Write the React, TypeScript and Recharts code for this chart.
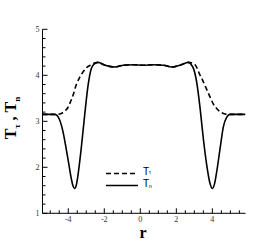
import React from 'react';
import { LineChart, Line, XAxis, YAxis } from 'recharts';

// T_n (solid) samples
const tnR = [-5.43, -5.0, -4.8, -4.67, -4.5, -4.29, -4.15, -4.02, -3.83, -3.74, -3.65, -3.55, -3.46, -3.28, -3.09, -2.9, -2.72, -2.55, -2.35, -1.96, -1.4, -0.94, -0.39, 0.17, 0.72, 1.28, 1.74, 2.2, 2.67, 2.85, 2.95, 3.13, 3.32, 3.5, 3.69, 3.85, 4.0, 4.12, 4.24, 4.43, 4.61, 4.8, 4.98, 5.3, 5.84];
const tnV = [3.15, 3.15, 3.15, 3.14, 3.05, 2.77, 2.48, 2.19, 1.75, 1.6, 1.54, 1.62, 1.83, 2.41, 3.13, 3.78, 4.15, 4.25, 4.28, 4.22, 4.18, 4.22, 4.23, 4.22, 4.23, 4.22, 4.18, 4.22, 4.28, 4.22, 4.15, 3.85, 3.28, 2.62, 2.04, 1.68, 1.54, 1.64, 1.9, 2.41, 2.88, 3.09, 3.15, 3.15, 3.15];

// T_tau (dashed) samples
const ttR = [-5.43, -4.6, -4.39, -4.2, -4.02, -3.88, -3.74, -3.55, -3.4, -3.28, -3.0, -2.72, -2.5, -2.35, -1.96, -1.4, -0.94, -0.39, 0.17, 0.72, 1.28, 1.74, 2.2, 2.67, 2.85, 3.04, 3.32, 3.45, 3.59, 3.87, 4.05, 4.24, 4.42, 4.61, 4.9, 5.84];
const ttV = [3.15, 3.15, 3.17, 3.22, 3.3, 3.42, 3.56, 3.8, 3.93, 4.01, 4.16, 4.23, 4.27, 4.28, 4.22, 4.18, 4.22, 4.23, 4.22, 4.23, 4.22, 4.18, 4.22, 4.28, 4.27, 4.23, 4.0, 3.9, 3.78, 3.53, 3.38, 3.28, 3.21, 3.17, 3.15, 3.15];

const xTicks = [-5, -4.5, -4, -3.5, -3, -2.5, -2, -1.5, -1, -0.5, 0, 0.5, 1, 1.5, 2, 2.5, 3, 3.5, 4, 4.5, 5, 5.5];
const xMajor = [-4, -2, 0, 2, 4];
const yTicks = [1, 1.2, 1.4, 1.6, 1.8, 2, 2.2, 2.4, 2.6, 2.8, 3, 3.2, 3.4, 3.6, 3.8, 4, 4.2, 4.4, 4.6, 4.8, 5];
const yMajor = [1, 2, 3, 4, 5];

const tnData = tnR.map((r, i) => ({ r, v: tnV[i] }));
const ttData = ttR.map((r, i) => ({ r, v: ttV[i] }));

const SERIF = '"Liberation Serif", "Times New Roman", serif';
const SANS = '"Liberation Sans", Arial, sans-serif';

const isMajor = (arr: number[], v: number) => arr.some((m) => Math.abs(m - v) < 1e-6);

const BottomTick = (p: any) => {
  const { x, y, payload } = p;
  const major = isMajor(xMajor, payload.value);
  return (
    <g>
      <line x1={x} x2={x} y1={y} y2={y - (major ? 5 : 3)} stroke="#000" strokeWidth={1} />
      {major && (
        <text x={x} y={y + 9} textAnchor="middle" fontSize={8} fontFamily={SERIF} fill="#333">
          {payload.value}
        </text>
      )}
    </g>
  );
};

const TopTick = (p: any) => {
  const { x, y, payload } = p;
  const major = isMajor(xMajor, payload.value);
  return <line x1={x} x2={x} y1={y} y2={y + (major ? 5 : 3)} stroke="#000" strokeWidth={1} />;
};

const LeftTick = (p: any) => {
  const { x, y, payload } = p;
  const major = isMajor(yMajor, payload.value);
  return (
    <g>
      <line x1={x} x2={x + (major ? 5 : 3)} y1={y} y2={y} stroke="#000" strokeWidth={1} />
      {major && (
        <text x={x - 3} y={y + 3} textAnchor="end" fontSize={8} fontFamily={SERIF} fill="#333">
          {payload.value}
        </text>
      )}
    </g>
  );
};

const RightTick = (p: any) => {
  const { x, y, payload } = p;
  const major = isMajor(yMajor, payload.value);
  return <line x1={x} x2={x - (major ? 5 : 3)} y1={y} y2={y} stroke="#000" strokeWidth={1} />;
};

const XDecor = () => (
  <g>
    <text x={143} y={238} textAnchor="middle" fontSize={16} fontWeight="bold" fontFamily={SERIF} fill="#000">
      r
    </text>
    <line x1={106} x2={138} y1={173.5} y2={173.5} stroke="#000" strokeWidth={1.5} strokeDasharray="5 3" />
    <line x1={106} x2={138} y1={185.5} y2={185.5} stroke="#000" strokeWidth={1.5} />
    <text x={143} y={175} fontSize={10} fontFamily={SANS} fill="#000">
      T<tspan fontSize={5} dy={-1}>τ</tspan>
    </text>
    <text x={143} y={187} fontSize={10} fontFamily={SANS} fill="#000">
      T<tspan fontSize={5} dy={1}>n</tspan>
    </text>
  </g>
);

const YDecor = () => (
  <text
    x={16}
    y={118}
    transform="rotate(-90, 16, 118)"
    textAnchor="middle"
    fontSize={16}
    fontWeight="bold"
    fontFamily={SERIF}
    fill="#000"
  >
    T<tspan fontSize={9} dy={4}>τ</tspan>
    <tspan dy={-4}> , T</tspan>
    <tspan fontSize={9} dy={4}>n</tspan>
  </text>
);

export default function App() {
  return (
    <div style={{ position: 'absolute', left: 0, top: 0, width: 271, height: 241, background: '#fff' }}>
      <LineChart width={271} height={241} margin={{ top: 29.3, right: 25.5, bottom: 0, left: 0 }}>
        <XAxis
          xAxisId="b"
          dataKey="r"
          type="number"
          domain={[-5.43, 5.84]}
          ticks={xTicks}
          interval={0}
          allowDataOverflow
          height={27.7}
          tickSize={0}
          tickMargin={0}
          tickLine={false}
          axisLine={{ stroke: '#000', strokeWidth: 1 }}
          tick={<BottomTick />}
          label={<XDecor />}
        />
        <XAxis
          xAxisId="t"
          orientation="top"
          dataKey="r"
          type="number"
          domain={[-5.43, 5.84]}
          ticks={xTicks}
          interval={0}
          allowDataOverflow
          height={0}
          tickSize={0}
          tickMargin={0}
          tickLine={false}
          axisLine={{ stroke: '#000', strokeWidth: 1 }}
          tick={<TopTick />}
        />
        <YAxis
          yAxisId="l"
          type="number"
          domain={[1, 5]}
          ticks={yTicks}
          interval={0}
          allowDataOverflow
          width={42.5}
          tickSize={0}
          tickMargin={0}
          tickLine={false}
          axisLine={{ stroke: '#000', strokeWidth: 1 }}
          tick={<LeftTick />}
          label={<YDecor />}
        />
        <YAxis
          yAxisId="r"
          orientation="right"
          type="number"
          domain={[1, 5]}
          ticks={yTicks}
          interval={0}
          allowDataOverflow
          width={0}
          tickSize={0}
          tickMargin={0}
          tickLine={false}
          axisLine={{ stroke: '#000', strokeWidth: 1 }}
          tick={<RightTick />}
        />
        <Line
          xAxisId="b"
          yAxisId="l"
          data={tnData}
          dataKey="v"
          type="monotone"
          stroke="#000"
          strokeWidth={1.6}
          dot={false}
          isAnimationActive={false}
        />
        <Line
          xAxisId="b"
          yAxisId="l"
          data={ttData}
          dataKey="v"
          type="monotone"
          stroke="#000"
          strokeWidth={1.6}
          strokeDasharray="5 3"
          dot={false}
          isAnimationActive={false}
        />
      </LineChart>
    </div>
  );
}
